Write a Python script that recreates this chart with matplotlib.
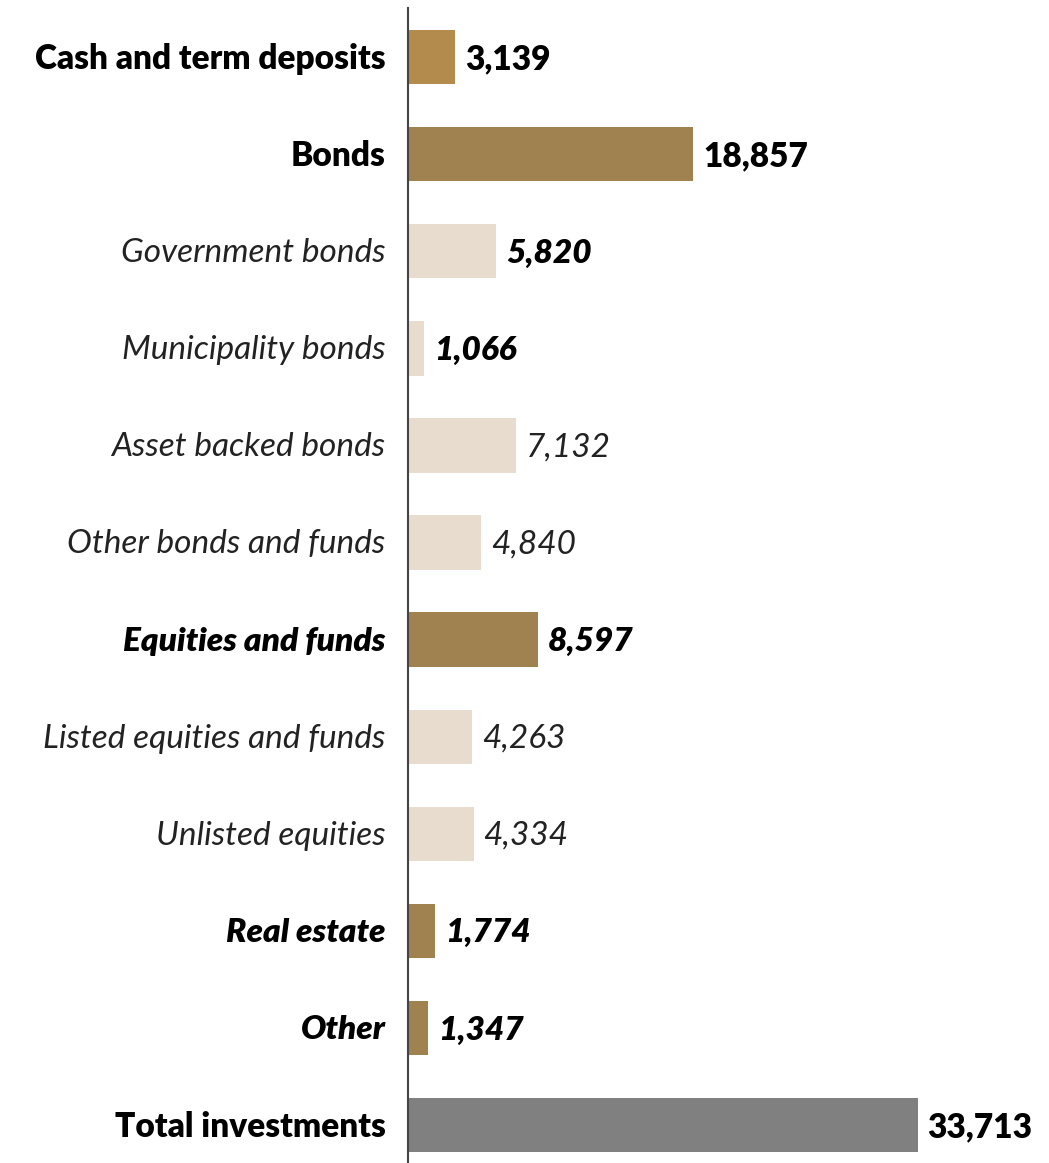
import matplotlib.pyplot as plt

plt.rcParams['font.family'] = ['Lato', 'DejaVu Sans']

# Investment breakdown
categories = [
    "Cash and term deposits", "Bonds", "Government bonds", "Municipality bonds",
    "Asset backed bonds", "Other bonds and funds", "Equities and funds",
    "Listed equities and funds", "Unlisted equities", "Real estate", "Other",
    "Total investments",
]
values = [3139, 18857, 5820, 1066, 7132, 4840, 8597, 4263, 4334, 1774, 1347, 33713]

# styling per row
bar_colors = ["#B38B4D", "#A08250", "#E8DCCF", "#E8DCCF", "#E8DCCF", "#E8DCCF",
              "#A08250", "#E8DCCF", "#E8DCCF", "#A08250", "#A08250", "#808080"]
label_style = ["bold", "bold", "italic", "italic", "italic", "italic",
               "bolditalic", "italic", "italic", "bolditalic", "bolditalic", "bold"]
value_style = ["bold", "bold", "bolditalic", "bolditalic", "italic", "italic",
               "bolditalic", "italic", "italic", "bolditalic", "bolditalic", "bold"]


def font_kw(style):
    return {
        "bold": dict(fontweight="heavy", fontstyle="normal", color="black"),
        "italic": dict(fontweight="normal", fontstyle="italic", color="#222222"),
        "bolditalic": dict(fontweight="heavy", fontstyle="italic", color="black"),
    }[style]


fig = plt.figure(figsize=(10.49, 11.63), dpi=100)
ax = fig.add_axes([408 / 1049, 0, 1 - 408 / 1049, 1 - 8 / 1163])

y = list(range(len(categories)))
ax.barh(y, values, height=0.56, color=bar_colors)

ax.set_xlim(0, 641 / 0.01512)
ax.set_ylim(11.39, -0.505)

for i, (v, cat) in enumerate(zip(values, categories)):
    ax.text(v + 650, i + 0.02, f"{v:,}", va="center", ha="left", fontsize=24,
            **font_kw(value_style[i]))
    ax.text(-0.035, i + 0.02, cat, transform=ax.get_yaxis_transform(), va="center",
            ha="right", fontsize=24, **font_kw(label_style[i]))

ax.set_xticks([])
ax.set_yticks([])
for s in ["top", "right", "bottom"]:
    ax.spines[s].set_visible(False)
ax.spines["left"].set_color("#444444")
ax.spines["left"].set_linewidth(1.5)

fig.savefig("out.png", dpi=100)
